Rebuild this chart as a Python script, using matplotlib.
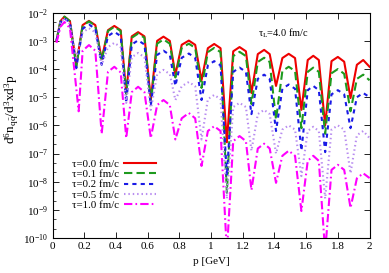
import numpy as np
import matplotlib
matplotlib.use("Agg")
import matplotlib.pyplot as plt
from matplotlib.ticker import LogLocator, NullFormatter, FixedLocator

# momentum grid (GeV): dips, shoulders and peaks
p = [0.025, 0.05, 0.075, 0.11,
     0.15, 0.19, 0.23, 0.27,
     0.31, 0.35, 0.39, 0.43,
     0.465, 0.50, 0.54, 0.58,
     0.62, 0.66, 0.70, 0.74,
     0.775, 0.815, 0.86, 0.90,
     0.94, 0.98, 1.02, 1.06,
     1.10, 1.14, 1.18, 1.22,
     1.255, 1.295, 1.335, 1.37,
     1.41, 1.45, 1.49, 1.53,
     1.57, 1.61, 1.645, 1.68,
     1.72, 1.76, 1.80, 1.84,
     1.88, 1.92, 1.96, 2.0]
p_tau10 = list(p)
p_tau10[4] = 0.165

# log10 of d6n/d3xd3p for each tau
log_tau00 = [-3.0, -2.3, -2.14, -2.3,
             -3.85, -2.44, -2.29, -2.44,
             -3.65, -2.62, -2.47, -2.62,
             -4.85, -2.84, -2.69, -2.84,
             -5.1, -3.0, -2.85, -3.0,
             -4.2, -3.14, -2.99, -3.14,
             -4.4, -3.26, -3.11, -3.26,
             -6.6, -3.37, -3.22, -3.37,
             -4.85, -3.47, -3.32, -3.47,
             -4.6, -3.61, -3.46, -3.61,
             -5.45, -3.68, -3.53, -3.68,
             -6.0, -3.72, -3.57, -3.74,
             -5.03, -3.85, -3.68, -3.92]
log_tau01 = [-3.0, -2.3, -2.14, -2.3,
             -3.92, -2.46, -2.31, -2.46,
             -3.7, -2.65, -2.5, -2.65,
             -4.9, -2.89, -2.74, -2.89,
             -5.2, -3.1, -2.95, -3.1,
             -4.3, -3.25, -3.1, -3.25,
             -4.67, -3.4, -3.25, -3.4,
             -8.4, -3.54, -3.39, -3.54,
             -5.24, -3.75, -3.6, -3.75,
             -5.8, -4.07, -3.92, -4.07,
             -6.1, -4.1, -3.95, -4.1,
             -6.3, -4.15, -4.0, -4.17,
             -5.5, -4.35, -4.2, -4.4]
log_tau02 = [-3.0, -2.35, -2.2, -2.35,
             -3.97, -2.57, -2.42, -2.57,
             -3.85, -2.83, -2.68, -2.83,
             -5.2, -3.13, -2.98, -3.13,
             -5.3, -3.5, -3.35, -3.5,
             -4.6, -3.6, -3.45, -3.6,
             -5.1, -3.87, -3.72, -3.87,
             -7.8, -4.1, -3.95, -4.1,
             -5.6, -4.35, -4.2, -4.35,
             -6.2, -4.7, -4.55, -4.7,
             -6.9, -4.75, -4.6, -4.75,
             -6.95, -4.9, -4.75, -4.9,
             -6.1, -5.0, -4.85, -5.0]
log_tau05 = [-3.0, -2.35, -2.2, -2.4,
             -3.6, -2.7, -2.55, -2.7,
             -3.86, -3.22, -3.07, -3.22,
             -5.2, -3.58, -3.43, -3.58,
             -5.45, -4.18, -4.03, -4.18,
             -5.1, -4.61, -4.46, -4.61,
             -6.5, -5.07, -4.92, -5.07,
             -8.6, -5.35, -5.2, -5.35,
             -6.9, -5.6, -5.45, -5.6,
             -7.0, -6.15, -6.0, -6.15,
             -7.8, -6.2, -6.05, -6.2,
             -8.6, -6.15, -6.0, -6.15,
             -7.7, -6.35, -6.2, -6.45]
log_tau10 = [-3.07, -2.5, -2.33, -2.55,
             -5.5, -3.35, -3.15, -3.35,
             -6.3, -4.1, -3.92, -4.12,
             -6.45, -4.82, -4.63, -4.82,
             -6.45, -5.28, -5.1, -5.28,
             -6.5, -5.75, -5.56, -5.75,
             -7.44, -6.2, -6.03, -6.2,
             -10.5, -6.56, -6.38, -6.56,
             -8.3, -6.82, -6.65, -6.82,
             -8.04, -7.08, -6.9, -7.08,
             -9.04, -7.26, -7.08, -7.26,
             -10.5, -7.58, -7.4, -7.58,
             -8.93, -7.88, -7.7, -7.87]

labels = ["τ=0.0 fm/c", "τ=0.1 fm/c", "τ=0.2 fm/c", "τ=0.5 fm/c", "τ=1.0 fm/c"]
xticks = [0, 0.2, 0.4, 0.6, 0.8, 1.0, 1.2, 1.4, 1.6, 1.8, 2.0]
xticklabels = ["0", "0.2", "0.4", "0.6", "0.8", "1", "1.2", "1.4", "1.6", "1.8", "2"]

plt.rcParams["font.family"] = ["Liberation Serif", "DejaVu Serif"]
plt.rcParams["mathtext.fontset"] = "custom"
plt.rcParams["mathtext.rm"] = "Liberation Serif"
plt.rcParams["mathtext.it"] = "Liberation Serif:italic"

fig = plt.figure(figsize=(3.89, 2.73), dpi=100)
ax = fig.add_axes([0.135, 0.128, 0.815, 0.8255])

series = [
    (p, log_tau00, dict(color="#ee0000", ls="-")),
    (p, log_tau01, dict(color="#1e9a1e", dashes=(4, 2))),
    (p, log_tau02, dict(color="#1a1ae6", dashes=(2, 2))),
    (p, log_tau05, dict(color="#b88cf0", dashes=(0.7, 1.4))),
    (p_tau10, log_tau10, dict(color="#ff00ff", dashes=(4, 1.5, 0.8, 1.5))),
]
for (px, ly, style), lab in zip(series, labels):
    ax.semilogy(px, 10.0 ** np.array(ly), lw=1.5, label=lab, **style)

ax.set_xlim(0, 2)
ax.set_ylim(1e-10, 1e-2)
ax.xaxis.set_major_locator(FixedLocator(xticks))
ax.set_xticklabels(xticklabels)
ax.yaxis.set_major_locator(LogLocator(base=10, numticks=20))
ax.yaxis.set_minor_locator(LogLocator(base=10, subs=(2.15, 4.64), numticks=20))
ax.yaxis.set_minor_formatter(NullFormatter())
ax.tick_params(which="both", direction="in", top=True, right=True, labelsize=8, pad=3)
ax.tick_params(which="major", length=4, width=0.6)
ax.tick_params(which="minor", length=2, width=0.5, right=False)
for s in ax.spines.values():
    s.set_linewidth(0.8)

ax.set_xlabel("p [GeV]", fontsize=8, labelpad=4)
ax.set_ylabel(r"$\mathrm{d^6n_{q\bar{q}}/d^3xd^3p}$", fontsize=9.5, labelpad=1)
ax.yaxis.set_label_coords(-0.098, 0.57)
ax.text(0.648, 0.91, r"τ$_\mathrm{L}$=4.0 fm/c", transform=ax.transAxes,
        fontsize=7.5, va="center", ha="left")

ax.legend(loc="lower left", bbox_to_anchor=(0.06, 0.125), frameon=False,
          markerfirst=False, fontsize=7.8, handlelength=3.0, handletextpad=0.5,
          labelspacing=0.06, borderpad=0, borderaxespad=0)

fig.savefig("out.png", dpi=100)
